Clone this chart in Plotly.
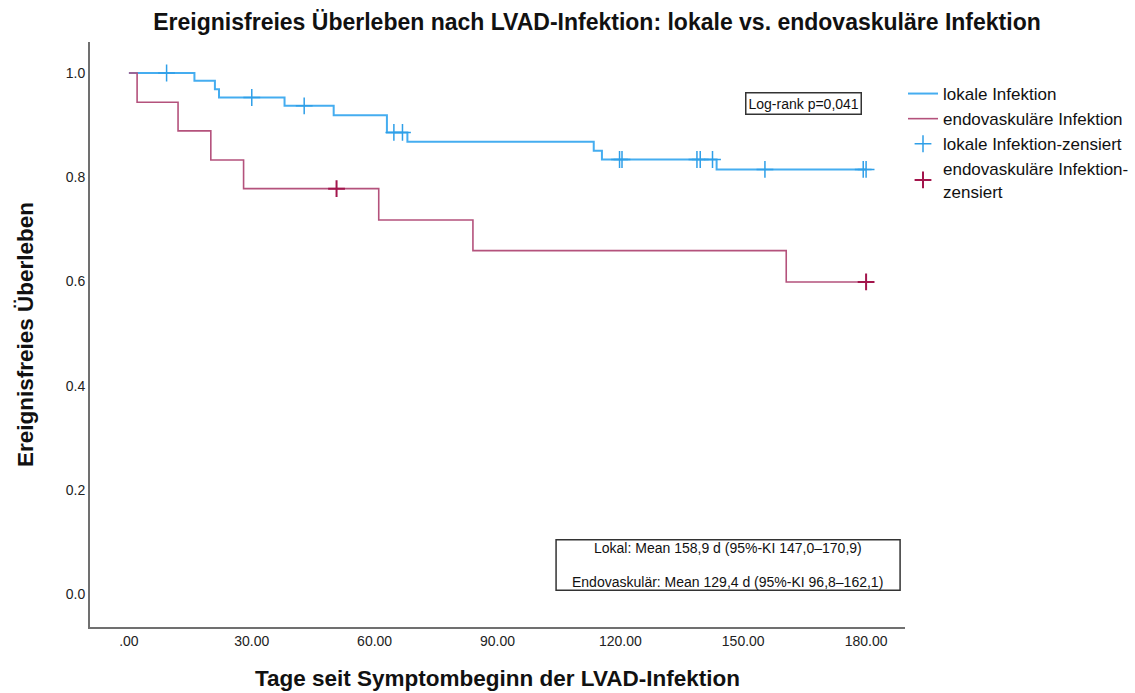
import numpy as np
import plotly.graph_objects as go

# Kaplan-Meier step values (days since symptom onset, event-free survival)
local_days = [0, 16, 21, 22, 38, 50, 63, 68, 113.5, 115.5, 143.5, 180]
local_surv = [1.0, 0.985, 0.969, 0.953, 0.937, 0.919, 0.886, 0.868, 0.851, 0.834, 0.815, 0.815]
local_censored = [9.2, 30, 42.8, 64.7, 66.8, 119.8, 120.4, 138.7, 139.5, 142.5, 155.3, 179.3, 180]

endo_days = [0, 2, 12, 20, 28, 61, 84, 160.5, 180]
endo_surv = [1.0, 0.944, 0.889, 0.833, 0.778, 0.718, 0.659, 0.599, 0.599]
endo_censored = [50.7, 180]

x_ticks = [0, 30, 60, 90, 120, 150, 180]
x_tick_labels = [".00", "30.00", "60.00", "90.00", "120.00", "150.00", "180.00"]
y_ticks = [0.0, 0.2, 0.4, 0.6, 0.8, 1.0]

BLUE = "#45adf0"
BLUE_MARK = "#2f9fe8"
MAGENTA = "#b4527c"
MAGENTA_MARK = "#a3154c"
FONT = "Liberation Sans, Arial, sans-serif"


def step_value(days, surv, t):
    """Survival at time t from a right-continuous step function."""
    idx = np.searchsorted(np.asarray(days), t, side="right") - 1
    return float(np.asarray(surv)[idx])


local_censor_y = [step_value(local_days, local_surv, t) for t in local_censored]
endo_censor_y = [step_value(endo_days, endo_surv, t) for t in endo_censored]

fig = go.Figure()
fig.add_trace(go.Scatter(
    x=local_days, y=local_surv, mode="lines", line_shape="hv",
    line=dict(color=BLUE, width=2), name="lokale Infektion"))
fig.add_trace(go.Scatter(
    x=endo_days, y=endo_surv, mode="lines", line_shape="hv",
    line=dict(color=MAGENTA, width=1.6), name="endovaskuläre Infektion"))
fig.add_trace(go.Scatter(
    x=local_censored, y=local_censor_y, mode="markers",
    marker=dict(symbol="cross-thin-open", size=12, color=BLUE_MARK,
                line=dict(color=BLUE_MARK, width=1.5)),
    name="lokale Infektion-zensiert"))
fig.add_trace(go.Scatter(
    x=endo_censored, y=endo_censor_y, mode="markers",
    marker=dict(symbol="cross-thin-open", size=12, color=MAGENTA_MARK,
                line=dict(color=MAGENTA_MARK, width=2)),
    name="endovaskuläre Infektion-<br>zensiert"))

# Log-rank box
fig.add_annotation(
    x=164.6, y=0.942, xref="x", yref="y", showarrow=False,
    text="Log-rank p=0,041", font=dict(family=FONT, size=14, color="#111"),
    bordercolor="#333", borderwidth=1.5, borderpad=2, bgcolor="white")

# Mean survival box
fig.add_shape(type="rect", xref="x", yref="y",
              x0=104.3, x1=188.3, y0=0.007, y1=0.104,
              line=dict(color="#333", width=1.5), fillcolor="white")
fig.add_annotation(
    x=146.2, y=(594 - 548) / 521, xref="x", yref="y", showarrow=False,
    text="Lokal: Mean 158,9 d (95%-KI 147,0–170,9)",
    font=dict(family=FONT, size=14, color="#111"))
fig.add_annotation(
    x=146.2, y=(594 - 581.5) / 521, xref="x", yref="y", showarrow=False,
    text="Endovaskulär: Mean 129,4 d (95%-KI 96,8–162,1)",
    font=dict(family=FONT, size=14, color="#111"))

fig.update_layout(
    width=1135, height=693,
    margin=dict(l=90, r=230, t=42, b=66, autoexpand=False),
    paper_bgcolor="white", plot_bgcolor="white",
    font=dict(family=FONT, color="#222"),
    title=dict(
        text="Ereignisfreies Überleben nach LVAD-Infektion: lokale vs. endovaskuläre Infektion",
        x=0.526, xanchor="center", y=1 - 22 / 693, yanchor="middle",
        font=dict(family=FONT, size=23, color="#111", weight="bold")),
    legend=dict(
        xref="container", yref="container",
        x=903 / 1135, xanchor="left", y=1 - 76 / 693, yanchor="top",
        font=dict(family=FONT, size=17, color="#111"),
        bgcolor="rgba(0,0,0,0)", tracegroupgap=0, itemwidth=30),
    showlegend=True,
)

fig.update_xaxes(
    range=[-9.5, 189.5], tickvals=x_ticks, ticktext=x_tick_labels,
    showgrid=False, zeroline=False, showline=True, linecolor="#707070",
    linewidth=2, ticks="", tickfont=dict(family=FONT, size=14, color="#222"),
    title=dict(text="Tage seit Symptombeginn der LVAD-Infektion",
               font=dict(family=FONT, size=22.5, color="#111", weight="bold"),
               standoff=22))
fig.update_yaxes(
    range=[-0.0633, 1.0595], tickvals=y_ticks, tickformat=".1f",
    showgrid=False, zeroline=False, showline=True, linecolor="#707070",
    linewidth=2, ticks="", tickfont=dict(family=FONT, size=14, color="#222"),
    title=dict(text="Ereignisfreies Überleben",
               font=dict(family=FONT, size=22.5, color="#111", weight="bold"),
               standoff=26))

fig.write_html("out.html")
